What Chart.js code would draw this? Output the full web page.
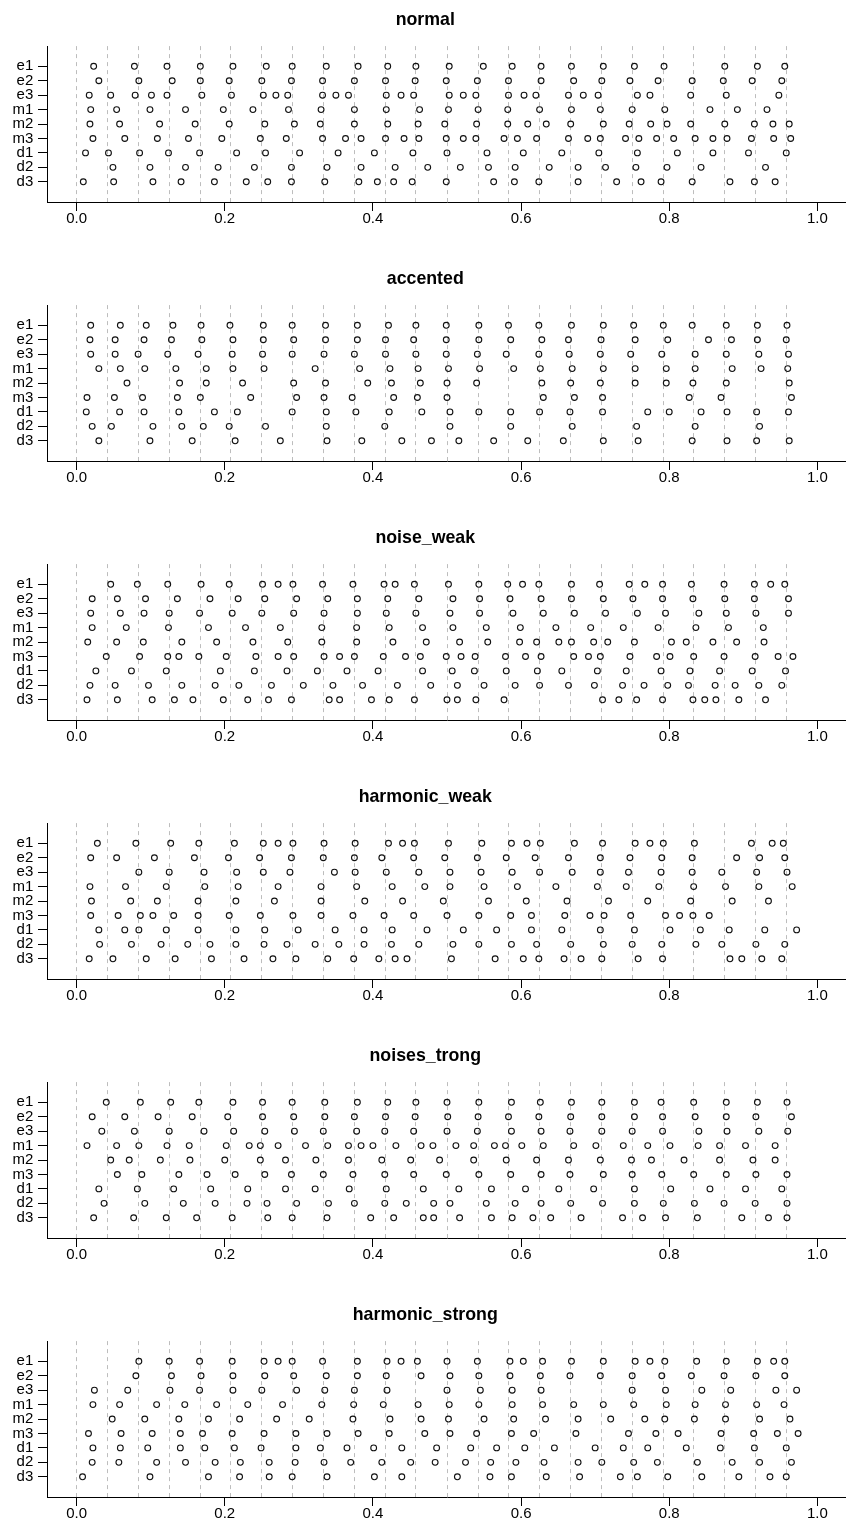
<!DOCTYPE html>
<html>
<head>
<meta charset="utf-8">
<title>onset strip charts</title>
<script src="https://cdn.jsdelivr.net/npm/chart.js@4.4.0/dist/chart.umd.min.js"></script>
<style>
  html, body { margin: 0; padding: 0; background: #fff; overflow: hidden; }
  #wrap { position: relative; width: 846px; height: 1533px; overflow: hidden; }
  #wrap canvas { position: absolute; left: 0; }
</style>
</head>
<body>
<div id="wrap"></div>
<script>
const rowLabels = ['e1', 'e2', 'e3', 'm1', 'm2', 'm3', 'd1', 'd2', 'd3'];
const panelTitles = ['normal', 'accented', 'noise_weak', 'harmonic_weak', 'noises_trong', 'harmonic_strong'];
const xTicks = [0, 0.2, 0.4, 0.6, 0.8, 1.0];
const beatLines = [0, 0.042, 0.083, 0.125, 0.167, 0.208, 0.25, 0.292, 0.333, 0.375, 0.417, 0.458,
                   0.5, 0.542, 0.583, 0.625, 0.667, 0.708, 0.75, 0.792, 0.833, 0.875, 0.917, 0.958];

// one list per row (e1 ... d3)
const normal = [
  [0.023, 0.078, 0.122, 0.167, 0.211, 0.256, 0.291, 0.337, 0.380, 0.420, 0.458, 0.503, 0.549, 0.588, 0.627, 0.668, 0.711, 0.753, 0.793, 0.875, 0.919, 0.956],
  [0.030, 0.084, 0.129, 0.167, 0.206, 0.250, 0.290, 0.332, 0.375, 0.417, 0.457, 0.499, 0.541, 0.583, 0.627, 0.671, 0.709, 0.747, 0.785, 0.831, 0.873, 0.912, 0.952],
  [0.017, 0.046, 0.079, 0.101, 0.122, 0.169, 0.209, 0.252, 0.269, 0.285, 0.332, 0.350, 0.367, 0.418, 0.438, 0.455, 0.503, 0.522, 0.539, 0.583, 0.604, 0.620, 0.664, 0.684, 0.704, 0.757, 0.774, 0.829, 0.877, 0.948],
  [0.019, 0.054, 0.099, 0.147, 0.198, 0.238, 0.286, 0.330, 0.375, 0.418, 0.463, 0.502, 0.542, 0.582, 0.625, 0.668, 0.707, 0.750, 0.794, 0.855, 0.892, 0.932],
  [0.018, 0.058, 0.112, 0.160, 0.206, 0.254, 0.294, 0.329, 0.375, 0.420, 0.461, 0.497, 0.540, 0.582, 0.609, 0.634, 0.667, 0.711, 0.746, 0.775, 0.797, 0.829, 0.875, 0.915, 0.940, 0.962],
  [0.022, 0.065, 0.109, 0.151, 0.196, 0.248, 0.283, 0.332, 0.363, 0.384, 0.417, 0.442, 0.462, 0.499, 0.522, 0.539, 0.577, 0.595, 0.621, 0.664, 0.690, 0.707, 0.741, 0.759, 0.783, 0.806, 0.835, 0.859, 0.878, 0.911, 0.941, 0.964],
  [0.012, 0.043, 0.085, 0.124, 0.166, 0.216, 0.255, 0.301, 0.353, 0.402, 0.454, 0.500, 0.554, 0.603, 0.655, 0.705, 0.757, 0.811, 0.859, 0.907, 0.958],
  [0.049, 0.099, 0.147, 0.191, 0.240, 0.290, 0.338, 0.384, 0.430, 0.474, 0.518, 0.556, 0.592, 0.638, 0.677, 0.714, 0.755, 0.797, 0.843, 0.930],
  [0.009, 0.050, 0.103, 0.141, 0.186, 0.229, 0.258, 0.290, 0.335, 0.381, 0.406, 0.428, 0.453, 0.499, 0.563, 0.591, 0.624, 0.677, 0.729, 0.762, 0.789, 0.831, 0.882, 0.915, 0.943]
];

const accented = [
  [0.019, 0.059, 0.094, 0.130, 0.168, 0.207, 0.252, 0.291, 0.336, 0.379, 0.421, 0.458, 0.499, 0.543, 0.583, 0.624, 0.668, 0.711, 0.752, 0.792, 0.831, 0.877, 0.919, 0.959],
  [0.018, 0.052, 0.091, 0.128, 0.169, 0.211, 0.252, 0.293, 0.336, 0.379, 0.417, 0.455, 0.499, 0.543, 0.586, 0.628, 0.664, 0.708, 0.754, 0.798, 0.853, 0.884, 0.919, 0.958],
  [0.019, 0.052, 0.083, 0.123, 0.164, 0.210, 0.251, 0.291, 0.334, 0.375, 0.417, 0.458, 0.499, 0.541, 0.580, 0.624, 0.665, 0.707, 0.748, 0.790, 0.835, 0.877, 0.921, 0.961],
  [0.030, 0.059, 0.092, 0.134, 0.175, 0.211, 0.253, 0.322, 0.382, 0.423, 0.461, 0.502, 0.544, 0.590, 0.626, 0.669, 0.711, 0.754, 0.796, 0.835, 0.885, 0.924, 0.960],
  [0.068, 0.139, 0.175, 0.224, 0.293, 0.336, 0.393, 0.425, 0.464, 0.500, 0.540, 0.628, 0.667, 0.707, 0.754, 0.796, 0.832, 0.877, 0.962],
  [0.014, 0.051, 0.089, 0.136, 0.167, 0.235, 0.297, 0.334, 0.372, 0.428, 0.460, 0.500, 0.630, 0.672, 0.710, 0.827, 0.870, 0.965],
  [0.013, 0.058, 0.091, 0.138, 0.186, 0.217, 0.291, 0.337, 0.377, 0.422, 0.466, 0.504, 0.543, 0.586, 0.625, 0.666, 0.710, 0.771, 0.800, 0.843, 0.878, 0.918, 0.961],
  [0.021, 0.047, 0.103, 0.142, 0.171, 0.206, 0.255, 0.337, 0.416, 0.504, 0.586, 0.669, 0.756, 0.835, 0.922],
  [0.030, 0.099, 0.156, 0.214, 0.275, 0.338, 0.385, 0.439, 0.479, 0.516, 0.563, 0.609, 0.657, 0.711, 0.758, 0.831, 0.878, 0.918, 0.962]
];

const noiseWeak = [
  [0.046, 0.082, 0.123, 0.168, 0.206, 0.251, 0.272, 0.292, 0.332, 0.373, 0.415, 0.430, 0.456, 0.502, 0.543, 0.582, 0.602, 0.624, 0.668, 0.706, 0.746, 0.767, 0.791, 0.830, 0.874, 0.915, 0.937, 0.956],
  [0.021, 0.055, 0.093, 0.136, 0.180, 0.218, 0.254, 0.297, 0.339, 0.379, 0.420, 0.462, 0.508, 0.544, 0.585, 0.627, 0.668, 0.711, 0.751, 0.791, 0.832, 0.875, 0.915, 0.961],
  [0.019, 0.059, 0.091, 0.125, 0.166, 0.210, 0.250, 0.293, 0.334, 0.379, 0.418, 0.458, 0.504, 0.544, 0.589, 0.630, 0.672, 0.714, 0.757, 0.795, 0.840, 0.877, 0.917, 0.961],
  [0.021, 0.067, 0.124, 0.178, 0.228, 0.275, 0.331, 0.378, 0.422, 0.467, 0.508, 0.553, 0.599, 0.647, 0.694, 0.738, 0.785, 0.836, 0.880, 0.927],
  [0.015, 0.054, 0.090, 0.142, 0.189, 0.238, 0.285, 0.331, 0.378, 0.427, 0.472, 0.517, 0.555, 0.598, 0.621, 0.651, 0.668, 0.698, 0.717, 0.753, 0.803, 0.823, 0.859, 0.891, 0.928],
  [0.040, 0.085, 0.123, 0.138, 0.165, 0.202, 0.242, 0.272, 0.293, 0.334, 0.355, 0.375, 0.414, 0.444, 0.464, 0.499, 0.519, 0.538, 0.579, 0.606, 0.627, 0.671, 0.691, 0.707, 0.747, 0.783, 0.801, 0.833, 0.874, 0.916, 0.947, 0.967],
  [0.026, 0.074, 0.121, 0.194, 0.240, 0.284, 0.325, 0.365, 0.407, 0.467, 0.507, 0.537, 0.580, 0.622, 0.655, 0.703, 0.742, 0.789, 0.828, 0.868, 0.912, 0.957],
  [0.018, 0.052, 0.097, 0.142, 0.187, 0.219, 0.263, 0.306, 0.346, 0.386, 0.433, 0.478, 0.514, 0.550, 0.592, 0.625, 0.664, 0.699, 0.737, 0.766, 0.798, 0.826, 0.862, 0.889, 0.921, 0.952],
  [0.014, 0.055, 0.102, 0.132, 0.157, 0.198, 0.231, 0.259, 0.290, 0.341, 0.355, 0.398, 0.422, 0.456, 0.500, 0.514, 0.539, 0.577, 0.710, 0.732, 0.756, 0.791, 0.832, 0.848, 0.863, 0.894, 0.930]
];

const harmonicWeak = [
  [0.028, 0.080, 0.127, 0.165, 0.213, 0.252, 0.272, 0.292, 0.334, 0.376, 0.421, 0.440, 0.456, 0.502, 0.547, 0.587, 0.608, 0.626, 0.672, 0.710, 0.754, 0.774, 0.792, 0.834, 0.911, 0.939, 0.954],
  [0.019, 0.054, 0.105, 0.159, 0.205, 0.247, 0.290, 0.333, 0.375, 0.412, 0.455, 0.497, 0.541, 0.580, 0.619, 0.664, 0.707, 0.747, 0.790, 0.831, 0.891, 0.922, 0.956],
  [0.084, 0.125, 0.172, 0.216, 0.252, 0.288, 0.348, 0.376, 0.418, 0.462, 0.504, 0.546, 0.588, 0.625, 0.669, 0.707, 0.745, 0.789, 0.831, 0.871, 0.918, 0.959],
  [0.018, 0.066, 0.121, 0.173, 0.218, 0.272, 0.330, 0.378, 0.426, 0.470, 0.504, 0.550, 0.595, 0.647, 0.703, 0.742, 0.786, 0.833, 0.876, 0.921, 0.966],
  [0.020, 0.073, 0.109, 0.164, 0.215, 0.267, 0.330, 0.389, 0.440, 0.495, 0.556, 0.607, 0.662, 0.718, 0.771, 0.829, 0.885, 0.934],
  [0.019, 0.056, 0.086, 0.103, 0.131, 0.164, 0.206, 0.248, 0.292, 0.330, 0.373, 0.415, 0.455, 0.500, 0.543, 0.586, 0.614, 0.659, 0.693, 0.712, 0.748, 0.795, 0.814, 0.832, 0.854],
  [0.030, 0.065, 0.084, 0.121, 0.164, 0.215, 0.254, 0.299, 0.349, 0.388, 0.426, 0.473, 0.522, 0.567, 0.614, 0.655, 0.707, 0.753, 0.801, 0.842, 0.881, 0.929, 0.972],
  [0.031, 0.074, 0.114, 0.150, 0.180, 0.215, 0.253, 0.284, 0.322, 0.354, 0.388, 0.425, 0.462, 0.508, 0.543, 0.587, 0.621, 0.667, 0.711, 0.750, 0.790, 0.836, 0.871, 0.917, 0.956],
  [0.017, 0.049, 0.094, 0.133, 0.182, 0.226, 0.265, 0.296, 0.339, 0.374, 0.408, 0.430, 0.446, 0.506, 0.565, 0.603, 0.624, 0.658, 0.681, 0.709, 0.758, 0.791, 0.882, 0.898, 0.925, 0.952]
];

const noisesTrong = [
  [0.040, 0.086, 0.127, 0.165, 0.211, 0.251, 0.291, 0.335, 0.379, 0.420, 0.458, 0.500, 0.543, 0.587, 0.626, 0.668, 0.709, 0.753, 0.789, 0.833, 0.877, 0.919, 0.959],
  [0.021, 0.065, 0.110, 0.156, 0.204, 0.251, 0.293, 0.335, 0.375, 0.417, 0.457, 0.501, 0.542, 0.583, 0.624, 0.667, 0.709, 0.753, 0.791, 0.835, 0.877, 0.917, 0.965],
  [0.034, 0.078, 0.125, 0.172, 0.212, 0.254, 0.294, 0.333, 0.378, 0.416, 0.455, 0.500, 0.541, 0.587, 0.627, 0.666, 0.709, 0.750, 0.791, 0.840, 0.878, 0.921, 0.960],
  [0.014, 0.054, 0.084, 0.122, 0.152, 0.202, 0.233, 0.248, 0.272, 0.309, 0.339, 0.367, 0.384, 0.400, 0.431, 0.465, 0.481, 0.512, 0.536, 0.564, 0.579, 0.601, 0.630, 0.671, 0.701, 0.738, 0.771, 0.801, 0.839, 0.868, 0.903, 0.943],
  [0.046, 0.071, 0.113, 0.153, 0.200, 0.248, 0.282, 0.323, 0.367, 0.412, 0.451, 0.490, 0.536, 0.580, 0.621, 0.664, 0.707, 0.749, 0.776, 0.820, 0.868, 0.913, 0.943],
  [0.055, 0.088, 0.138, 0.176, 0.214, 0.254, 0.290, 0.333, 0.373, 0.416, 0.455, 0.499, 0.543, 0.586, 0.627, 0.666, 0.711, 0.750, 0.790, 0.833, 0.877, 0.917, 0.959],
  [0.030, 0.082, 0.131, 0.181, 0.231, 0.282, 0.322, 0.368, 0.418, 0.468, 0.516, 0.560, 0.606, 0.651, 0.698, 0.753, 0.802, 0.855, 0.903, 0.952],
  [0.037, 0.092, 0.144, 0.187, 0.230, 0.257, 0.297, 0.340, 0.375, 0.416, 0.445, 0.482, 0.504, 0.553, 0.592, 0.627, 0.667, 0.710, 0.753, 0.792, 0.834, 0.874, 0.916, 0.959],
  [0.023, 0.077, 0.121, 0.162, 0.210, 0.258, 0.291, 0.338, 0.397, 0.428, 0.468, 0.482, 0.517, 0.560, 0.588, 0.616, 0.640, 0.681, 0.737, 0.764, 0.795, 0.838, 0.898, 0.934, 0.959]
];

const harmonicStrong = [
  [0.084, 0.125, 0.166, 0.210, 0.253, 0.272, 0.291, 0.332, 0.379, 0.419, 0.438, 0.460, 0.500, 0.541, 0.585, 0.603, 0.629, 0.668, 0.711, 0.754, 0.774, 0.794, 0.837, 0.877, 0.919, 0.941, 0.956],
  [0.080, 0.128, 0.168, 0.211, 0.254, 0.293, 0.337, 0.379, 0.418, 0.465, 0.504, 0.543, 0.585, 0.626, 0.666, 0.707, 0.750, 0.790, 0.830, 0.874, 0.917, 0.956],
  [0.024, 0.069, 0.126, 0.166, 0.211, 0.250, 0.297, 0.335, 0.375, 0.419, 0.500, 0.545, 0.588, 0.627, 0.750, 0.795, 0.844, 0.883, 0.944, 0.972],
  [0.022, 0.058, 0.108, 0.146, 0.189, 0.231, 0.278, 0.331, 0.374, 0.414, 0.461, 0.503, 0.543, 0.588, 0.629, 0.671, 0.711, 0.752, 0.796, 0.835, 0.876, 0.918, 0.955],
  [0.048, 0.092, 0.138, 0.178, 0.220, 0.270, 0.314, 0.373, 0.423, 0.465, 0.502, 0.550, 0.590, 0.633, 0.677, 0.721, 0.767, 0.794, 0.834, 0.876, 0.922, 0.963],
  [0.016, 0.060, 0.102, 0.140, 0.170, 0.210, 0.253, 0.296, 0.338, 0.380, 0.422, 0.470, 0.504, 0.540, 0.587, 0.617, 0.674, 0.745, 0.782, 0.812, 0.870, 0.914, 0.946, 0.974],
  [0.022, 0.059, 0.096, 0.140, 0.173, 0.213, 0.249, 0.296, 0.329, 0.365, 0.401, 0.439, 0.486, 0.532, 0.567, 0.605, 0.645, 0.700, 0.738, 0.771, 0.823, 0.869, 0.915, 0.958],
  [0.021, 0.057, 0.108, 0.147, 0.187, 0.221, 0.260, 0.295, 0.334, 0.370, 0.412, 0.451, 0.484, 0.525, 0.559, 0.593, 0.631, 0.677, 0.709, 0.752, 0.784, 0.838, 0.885, 0.922, 0.965],
  [0.008, 0.099, 0.178, 0.220, 0.260, 0.291, 0.338, 0.402, 0.439, 0.514, 0.558, 0.587, 0.634, 0.679, 0.734, 0.757, 0.798, 0.844, 0.894, 0.936, 0.958]
];

const panels = [normal, accented, noiseWeak, harmonicWeak, noisesTrong, harmonicStrong];

const PANEL_H = 259;
const FONT = '"Liberation Sans", Arial, Helvetica, sans-serif';

window.onload = function () {
    const wrap = document.getElementById('wrap');

    panels.forEach(function (rows, p) {
        const canvas = document.createElement('canvas');
        canvas.width = 851;
        canvas.height = PANEL_H;
        canvas.style.top = (p * PANEL_H) + 'px';
        wrap.appendChild(canvas);

        // row e1 sits at y = 9, d3 at y = 1
        const points = [];
        rows.forEach(function (vals, r) {
            vals.forEach(function (v) {
                points.push({ x: v, y: rowLabels.length - r });
            });
        });

        new Chart(canvas, {
            type: 'scatter',
            data: {
                datasets: [{
                    data: points,
                    pointStyle: 'circle',
                    pointRadius: 2.9,
                    pointHoverRadius: 2.9,
                    pointBorderWidth: 1.1,
                    borderColor: '#111',
                    backgroundColor: 'rgba(0,0,0,0)'
                }]
            },
            options: {
                responsive: false,
                animation: false,
                events: [],
                layout: { padding: { left: 0, right: 0.5, top: 0, bottom: 0 } },
                plugins: {
                    legend: { display: false },
                    tooltip: { enabled: false },
                    title: {
                        display: true,
                        text: panelTitles[p],
                        color: '#000',
                        font: { family: FONT, size: 17.75, weight: 'bold', lineHeight: 1.2 },
                        padding: { top: 9.6, bottom: 15.2 }
                    }
                },
                scales: {
                    x: {
                        type: 'linear',
                        position: 'bottom',
                        min: -0.04,
                        max: 1.04,
                        afterBuildTicks: function (s) { s.ticks = xTicks.map(function (v) { return { value: v }; }); },
                        afterFit: function (s) { s.height = PANEL_H - 202; },
                        ticks: {
                            callback: function (v) { return v.toFixed(1); },
                            color: '#000',
                            font: { family: FONT, size: 15 },
                            padding: -1,
                            maxRotation: 0,
                            autoSkip: false
                        },
                        grid: { drawOnChartArea: false, drawTicks: true, tickLength: 9, tickColor: '#000', tickWidth: 1 },
                        border: { display: true, color: '#000', width: 1 }
                    },
                    beats: {
                        axis: 'x',
                        type: 'linear',
                        position: 'bottom',
                        min: -0.04,
                        max: 1.04,
                        afterBuildTicks: function (s) { s.ticks = beatLines.map(function (v) { return { value: v }; }); },
                        afterFit: function (s) { s.height = 0; },
                        ticks: { display: false },
                        grid: { drawOnChartArea: true, drawTicks: false, color: '#bdbdbd', lineWidth: 1 },
                        border: { display: false, dash: [4, 4] }
                    },
                    y: {
                        type: 'linear',
                        position: 'left',
                        min: -0.4,
                        max: 10.4,
                        afterBuildTicks: function (s) {
                            s.ticks = rowLabels.map(function (l, i) { return { value: rowLabels.length - i }; });
                        },
                        afterFit: function (s) { s.width = 47; },
                        ticks: {
                            callback: function (v) { return rowLabels[rowLabels.length - v]; },
                            color: '#000',
                            font: { family: FONT, size: 15 },
                            padding: 4.7,
                            autoSkip: false
                        },
                        grid: { drawOnChartArea: false, drawTicks: true, tickLength: 9, tickColor: '#000', tickWidth: 1 },
                        border: { display: true, color: '#000', width: 1 }
                    }
                }
            }
        });
    });
};
</script>
</body>
</html>
